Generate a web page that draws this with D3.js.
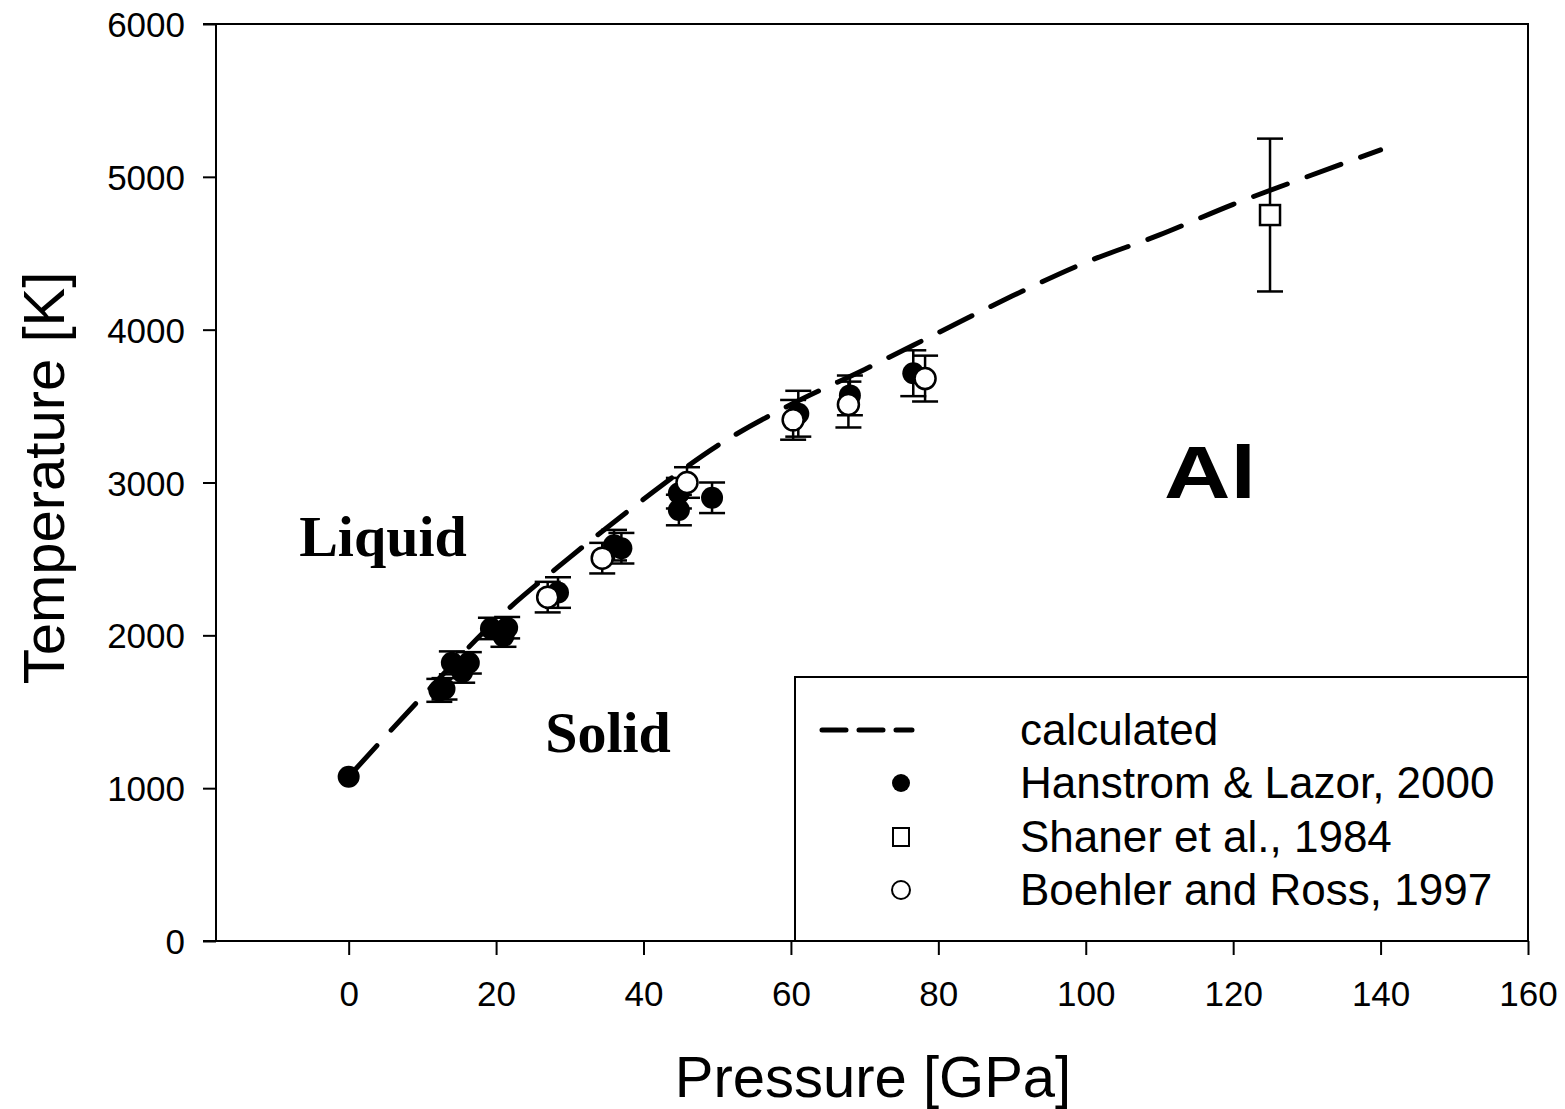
<!DOCTYPE html>
<html><head><meta charset="utf-8">
<script src="https://cdn.jsdelivr.net/npm/d3@7"></script>
<style>body{margin:0;background:#fff}</style>
</head><body>
<svg id="c" width="1565" height="1109"></svg>
<script>
// ---- data ----
const xTicks = [0,20,40,60,80,100,120,140,160];
const yTicks = [0,1000,2000,3000,4000,5000,6000];
const calcP = [0,10,20,30,40,50,60,70,80,90,100,110,120,130,140];
const calcT = [1075,1600,2100,2510,2890,3240,3510,3740,3980,4220,4440,4620,4820,5000,5176];
const hanP = [0,12.3,13.0,14.0,15.4,16.3,19.3,21.0,21.5,28.4,36.0,37.0,44.8,44.8,49.3,61.0,68.0,76.6];
const hanT = [1075,1640,1650,1820,1760,1820,2045,1995,2050,2280,2590,2570,2820,2930,2900,3450,3570,3715];
const hanE = [0,75,70,75,70,70,70,70,70,100,100,100,100,100,100,150,130,150];
const shaP = [125];
const shaT = [4750];
const shaE = [500];
const boeP = [27.0,34.4,45.9,60.3,67.8,78.2];
const boeT = [2250,2505,3000,3410,3510,3680];
const boeE = [100,100,100,130,150,150];
const legendLabels = ["calculated","Hanstrom & Lazor, 2000","Shaner et al., 1984","Boehler and Ross, 1997"];

// ---- layout ----
const L=216, R=1528, T=24, B=941;
const svg=d3.select("#c");
const x=d3.scaleLinear().domain([-18,160]).range([L,R]);
const y=d3.scaleLinear().domain([0,6000]).range([B,T]);
const font="Arial, 'Liberation Sans', sans-serif";
const serif="'Liberation Serif','Times New Roman',serif";

// frame
svg.append("rect").attr("x",L).attr("y",T).attr("width",R-L).attr("height",B-T)
  .attr("fill","none").attr("stroke","#000").attr("stroke-width",2);

// axes
const xa=svg.append("g").attr("transform",`translate(0,${B})`)
  .call(d3.axisBottom(x).tickValues(xTicks).tickFormat(d3.format("d")).tickSize(14).tickSizeOuter(0).tickPadding(51));
const ya=svg.append("g").attr("transform",`translate(${L},0)`)
  .call(d3.axisLeft(y).tickValues(yTicks).tickFormat(d3.format("d")).tickSize(13).tickSizeOuter(0).tickPadding(18));
[xa,ya].forEach(g=>{
  g.selectAll(".tick line").attr("stroke-width",2);
  g.selectAll(".tick text").attr("font-family",font).attr("font-size",35).attr("fill","#000");
  g.select(".domain").remove();
});
xa.selectAll(".tick text").attr("dy","0");
ya.selectAll(".tick text").attr("dy","0.36em");
svg.append("line").attr("x1",203).attr("x2",R).attr("y1",B).attr("y2",B).attr("stroke","#000").attr("stroke-width",2);
svg.append("line").attr("x1",203).attr("x2",R).attr("y1",T).attr("y2",T).attr("stroke","#000").attr("stroke-width",2);

// axis titles
svg.append("text").attr("x",873).attr("y",1097).attr("text-anchor","middle")
  .attr("font-family",font).attr("font-size",58).text("Pressure [GPa]");
svg.append("text").attr("transform","translate(64,478) rotate(-90)").attr("text-anchor","middle")
  .attr("font-family",font).attr("font-size",58).text("Temperature [K]");

// annotations
svg.append("text").attr("x",1164).attr("y",498)
  .attr("font-family",font).attr("font-weight","bold").attr("font-size",74)
  .attr("textLength",92).attr("lengthAdjust","spacingAndGlyphs").text("Al");
svg.append("text").attr("x",383).attr("y",556).attr("text-anchor","middle")
  .attr("font-family",serif).attr("font-weight","bold").attr("font-size",58).text("Liquid");
svg.append("text").attr("x",608).attr("y",752).attr("text-anchor","middle")
  .attr("font-family",serif).attr("font-weight","bold").attr("font-size",58).text("Solid");

// calculated line
const line=d3.line().x(d=>x(d[0])).y(d=>y(d[1])).curve(d3.curveMonotoneX);
svg.append("path").datum(calcP.map((p,i)=>[p,calcT[i]])).attr("d",line)
  .attr("fill","none").attr("stroke","#000").attr("stroke-width",5)
  .attr("stroke-linecap","round").attr("stroke-dasharray","36,21").attr("stroke-dashoffset",-6);

function errbars(P,Tv,E){
  const g=svg.append("g").attr("stroke","#000").attr("stroke-width",2.5);
  P.forEach((p,i)=>{
    if(!E[i]) return;
    const cx=x(p), y1=y(Tv[i]+E[i]), y2=y(Tv[i]-E[i]);
    g.append("line").attr("x1",cx).attr("x2",cx).attr("y1",y1).attr("y2",y2);
    g.append("line").attr("x1",cx-13).attr("x2",cx+13).attr("y1",y1).attr("y2",y1);
    g.append("line").attr("x1",cx-13).attr("x2",cx+13).attr("y1",y2).attr("y2",y2);
  });
}
// Hanstrom
errbars(hanP,hanT,hanE);
svg.append("g").selectAll("circle").data(hanP).join("circle")
  .attr("cx",d=>x(d)).attr("cy",(d,i)=>y(hanT[i])).attr("r",11).attr("fill","#000");
// Boehler
errbars(boeP,boeT,boeE);
svg.append("g").selectAll("circle").data(boeP).join("circle")
  .attr("cx",d=>x(d)).attr("cy",(d,i)=>y(boeT[i])).attr("r",10.5).attr("fill","#fff")
  .attr("stroke","#000").attr("stroke-width",2.5);
// Shaner
errbars(shaP,shaT,shaE);
svg.append("g").selectAll("rect").data(shaP).join("rect")
  .attr("x",d=>x(d)-10).attr("y",(d,i)=>y(shaT[i])-10).attr("width",20).attr("height",20)
  .attr("fill","#fff").attr("stroke","#000").attr("stroke-width",2.5);

// legend
const lg=svg.append("g");
lg.append("rect").attr("x",795).attr("y",677).attr("width",R-795).attr("height",B-677)
  .attr("fill","#fff").attr("stroke","#000").attr("stroke-width",2);
const rowY=[730,783,837,890];
lg.append("line").attr("x1",822).attr("x2",912).attr("y1",rowY[0]).attr("y2",rowY[0])
  .attr("stroke","#000").attr("stroke-width",5).attr("stroke-dasharray","24,13").attr("stroke-linecap","round");
lg.append("circle").attr("cx",901).attr("cy",rowY[1]).attr("r",9).attr("fill","#000");
lg.append("rect").attr("x",893).attr("y",rowY[2]-9).attr("width",16).attr("height",18)
  .attr("fill","#fff").attr("stroke","#000").attr("stroke-width",2);
lg.append("circle").attr("cx",901).attr("cy",rowY[3]).attr("r",9).attr("fill","#fff").attr("stroke","#000").attr("stroke-width",2);
legendLabels.forEach((t,i)=>{
  lg.append("text").attr("x",1020).attr("y",rowY[i]+15).attr("font-family",font).attr("font-size",44).text(t);
});
</script>
</body></html>
